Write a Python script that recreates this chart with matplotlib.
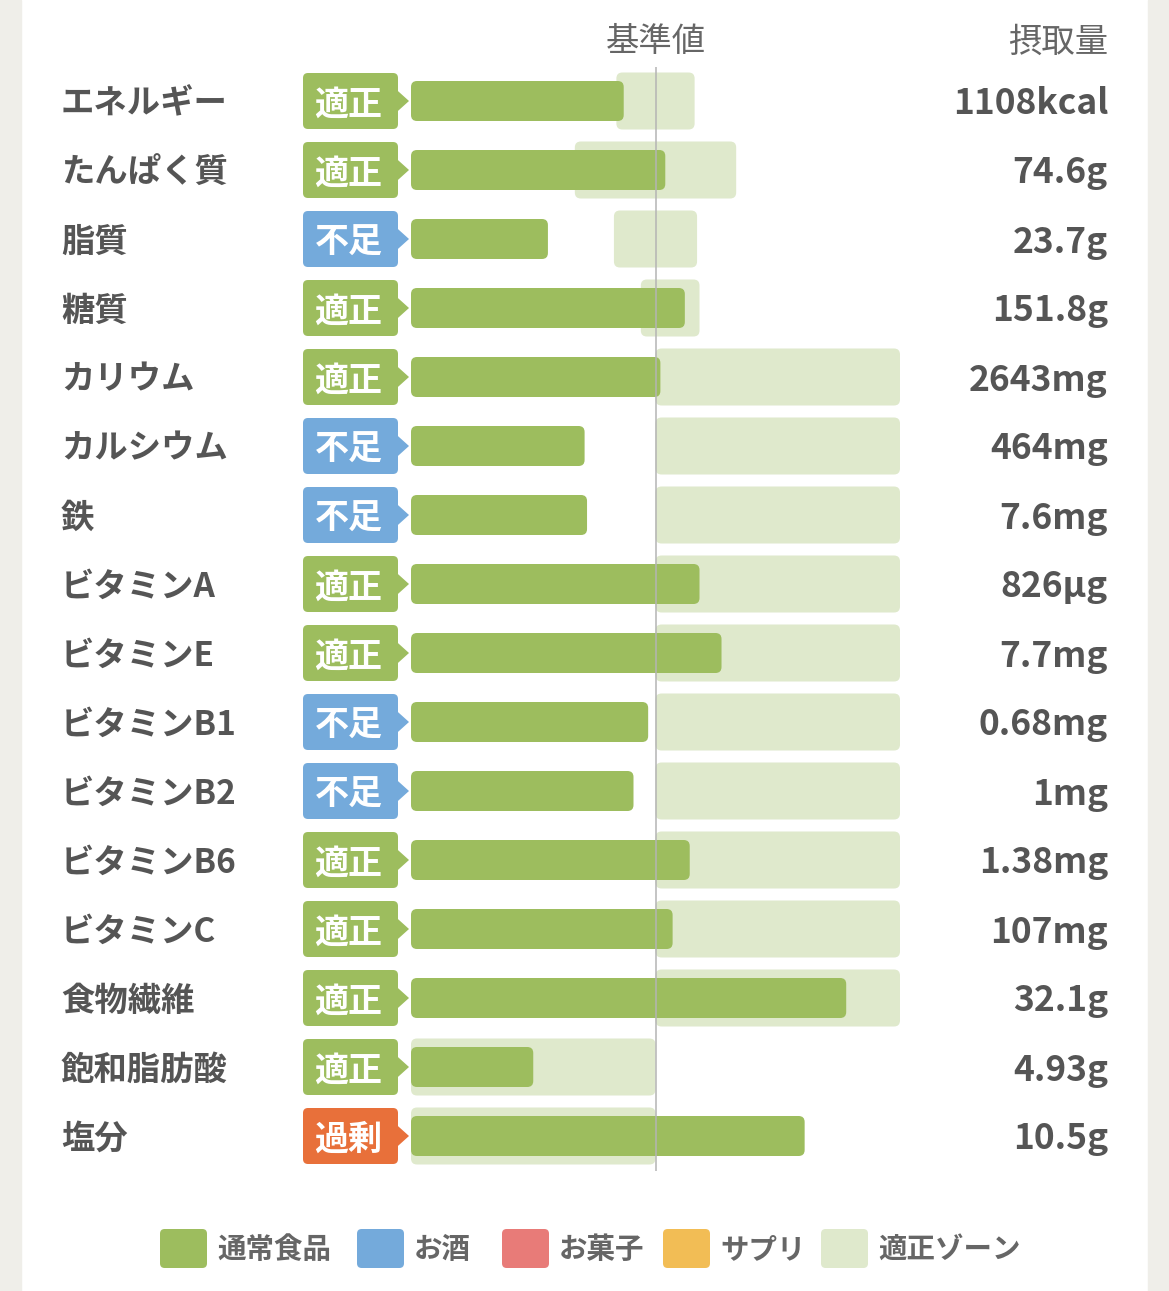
import matplotlib
matplotlib.use("Agg")
import matplotlib.pyplot as plt
import matplotlib.transforms as mtransforms
from matplotlib.patches import FancyBboxPatch, Polygon, Rectangle

plt.rcParams['font.family'] = ['Noto Sans CJK JP', 'DejaVu Sans']

# 栄養素ごとのデータ (基準値に対する割合 %)
nutrients = ["エネルギー", "たんぱく質", "脂質", "糖質", "カリウム", "カルシウム", "鉄",
             "ビタミンA", "ビタミンE", "ビタミンB1", "ビタミンB2", "ビタミンB6",
             "ビタミンC", "食物繊維", "飽和脂肪酸", "塩分"]
intake_pct = [87, 104, 56, 112, 102, 71, 72, 118, 127, 97, 91, 114, 107, 178, 50, 161]
zone_lo = [84, 67, 83, 94, 100, 100, 100, 100, 100, 100, 100, 100, 100, 100, 0, 0]
zone_hi = [116, 133, 117, 118, 200, 200, 200, 200, 200, 200, 200, 200, 200, 200, 100, 100]
status = ["適正", "適正", "不足", "適正", "適正", "不足", "不足", "適正", "適正", "不足",
          "不足", "適正", "適正", "適正", "適正", "過剰"]
intake_text = ["1108kcal", "74.6g", "23.7g", "151.8g", "2643mg", "464mg", "7.6mg", "826µg",
               "7.7mg", "0.68mg", "1mg", "1.38mg", "107mg", "32.1g", "4.93g", "10.5g"]

legend_labels = ["通常食品", "お酒", "お菓子", "サプリ", "適正ゾーン"]
legend_colors = ["#9dbd5e", "#74aadb", "#e87b78", "#f2bd55", "#dfe9cc"]

GREEN = "#9dbd5e"
ZONE = "#dfe9cc"
status_colors = {"適正": "#9dbd5e", "不足": "#74aadb", "過剰": "#e8703a"}
TXT = "#555555"

W, H = 1169, 1291
fig = plt.figure(figsize=(W / 100, H / 100), dpi=100)
fig.patch.set_facecolor("white")

def fx(px):
    return px / W

def fy(py):
    return 1 - py / H

# 左右のグレーの枠
fig.patches.append(Rectangle((0, 0), fx(21), 1, transform=fig.transFigure, color="#efeee9", zorder=0))
fig.patches.append(Rectangle((fx(1148), 0), fx(21), 1, transform=fig.transFigure, color="#efeee9", zorder=0))

ax = fig.add_axes([fx(411), fy(1170.5), fx(900) - fx(411), (1170.5 - 66.5) / H])
ax.set_xlim(0, 200)
ax.set_ylim(len(nutrients) - 0.5, -0.5)
ax.axis("off")

px_x = (900 - 411) / 200.0   # 1単位あたりのピクセル (x)
px_y = (1170.5 - 66.5) / len(nutrients)  # (y)
ma = px_x / px_y

zone_h = 57 / px_y
bar_h = 40 / px_y
badge_h = 56 / px_y
dy = 3 / px_y  # 文字の縦位置の補正

trans_fy = mtransforms.blended_transform_factory(fig.transFigure, ax.transData)

for i, name in enumerate(nutrients):
    # 適正ゾーン
    z = FancyBboxPatch((zone_lo[i], i - zone_h / 2), zone_hi[i] - zone_lo[i], zone_h,
                       boxstyle="round,pad=0,rounding_size=%f" % (6 / px_x),
                       mutation_aspect=ma, fc=ZONE, ec="none", zorder=1)
    ax.add_patch(z)
    # 摂取量バー
    b = FancyBboxPatch((0, i - bar_h / 2), intake_pct[i], bar_h,
                       boxstyle="round,pad=0,rounding_size=%f" % (6 / px_x),
                       mutation_aspect=ma, fc=GREEN, ec="none", zorder=2)
    ax.add_patch(b)

    # バッジ
    c = status_colors[status[i]]
    bl = (303 - 411) / px_x
    br = (398 - 411) / px_x
    tip = (409 - 411) / px_x
    badge = FancyBboxPatch((bl, i - badge_h / 2), br - bl, badge_h,
                           boxstyle="round,pad=0,rounding_size=%f" % (5 / px_x),
                           mutation_aspect=ma, fc=c, ec="none", zorder=3, clip_on=False)
    ax.add_patch(badge)
    ah = 11 / px_y
    ax.add_patch(Polygon([[br - 0.5, i - ah], [tip, i], [br - 0.5, i + ah]], closed=True,
                         fc=c, ec="none", zorder=3, clip_on=False))
    ax.text((bl + br) / 2 - 0.8, i + dy, status[i], color="white", fontsize=24.5, fontweight="bold",
            ha="center", va="center", zorder=4, clip_on=False)

    # 名前と摂取量
    ax.text(fx(61), i + dy, name, transform=trans_fy, fontsize=24, fontweight="bold",
            color=TXT, ha="left", va="center")
    ax.text(fx(1108), i + dy, intake_text[i], transform=trans_fy, fontsize=25.5, fontweight="bold",
            color=TXT, ha="right", va="center")

# 基準値の線
ax.axvline(100, ymin=0, ymax=1, color="#b4b4b4", lw=1.1, zorder=5)

# ヘッダー
trans_xf = mtransforms.blended_transform_factory(ax.transData, fig.transFigure)
ax.text(100, fy(42), "基準値", transform=trans_xf, fontsize=24, color="#666666",
        ha="center", va="center")
ax.text(fx(1108), fy(42), "摂取量", transform=fig.transFigure, fontsize=24, color="#666666",
        ha="right", va="center")

# 凡例
legend_x = [160, 357, 502, 663, 821]
for lx, lab, col in zip(legend_x, legend_labels, legend_colors):
    sq = FancyBboxPatch((fx(lx), fy(1268)), fx(47), 39 / H,
                        boxstyle="round,pad=0,rounding_size=0.004",
                        mutation_aspect=W / H, transform=fig.transFigure,
                        fc=col, ec="none")
    fig.patches.append(sq)
    fig.text(fx(lx + 57), fy(1250), lab, fontsize=20.5, fontweight="bold", color="#666666",
             ha="left", va="center")

fig.savefig("out.png", dpi=100)
